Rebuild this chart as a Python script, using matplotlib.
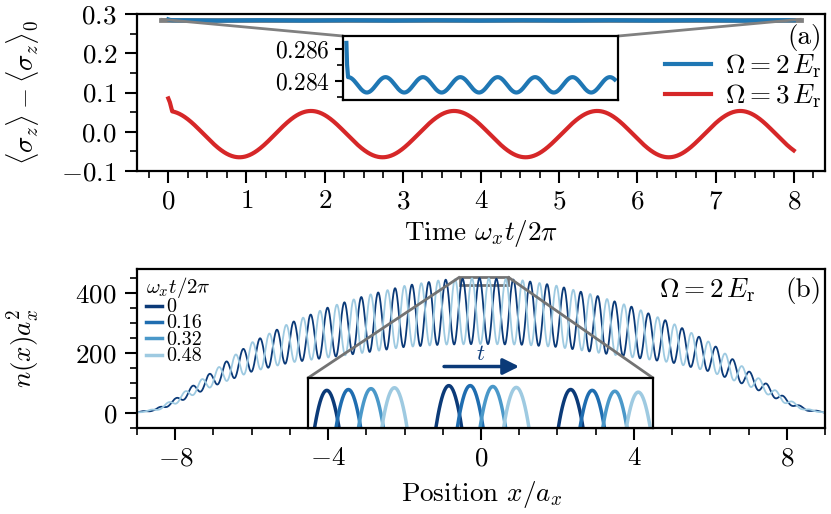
import numpy as np
import matplotlib.pyplot as plt
from matplotlib.lines import Line2D
from matplotlib.ticker import MultipleLocator
from mpl_toolkits.axes_grid1.inset_locator import mark_inset

plt.rcParams.update({
    "font.family": "serif",
    "font.serif": ["cmr10"],
    "mathtext.fontset": "cm",
    "axes.formatter.use_mathtext": True,
    "font.size": 19.5,
    "axes.linewidth": 1.6,
})

# ---- panel (a): values ----
t_end = 8.0
# sharp initial drop, then a steady oscillation
blue_start_t = [0.0, 0.02]
blue_start = [0.28637, 0.2850]
blue_mean, blue_amp, blue_period, blue_trough = 0.28375, 0.00048, 1.115, 0.61

red_start_t = [0.0, 0.02]
red_start = [0.085, 0.075]
red_mean, red_amp, red_period, red_trough = -0.006, 0.059, 1.83, 0.91

# ---- panel (b): density envelope (symmetric in x) ----
x_knots = [0, 1, 2, 3, 4, 5, 6, 7, 7.5, 8, 8.5, 9]
upper_env = [450, 444, 424, 392, 352, 300, 235, 140, 95, 48, 14, 3]
lower_env = [230, 228, 220, 202, 185, 168, 138, 90, 62, 30, 8, 1]
fringe_period = 0.442
fringe_x0 = -0.04
times = ["0", "0.16", "0.32", "0.48"]
fringe_shift = [0.0, 0.078, 0.160, 0.245]
colors = ["#0b3a78", "#1f6db0", "#4a98c9", "#9ecae1"]

blue_c = "#1f77b4"
red_c = "#d62728"


def wave(t, mean, amp, period, t_trough):
    return mean - amp * np.cos(2 * np.pi * (t - t_trough) / period)


t = np.linspace(0.05, t_end, 1200)
t_blue = np.concatenate([blue_start_t, t])
y_blue = np.concatenate([blue_start, wave(t, blue_mean, blue_amp, blue_period, blue_trough)])
t_red = np.concatenate([red_start_t, t])
y_red = np.concatenate([red_start, wave(t, red_mean, red_amp, red_period, red_trough)])

x = np.linspace(-9, 9, 4000)
up = np.interp(np.abs(x), x_knots, upper_env)
lo = np.interp(np.abs(x), x_knots, lower_env)


def density(shift):
    ph = 2 * np.pi * (x - fringe_x0 - shift) / fringe_period
    return lo + (up - lo) * 0.5 * (1 + np.cos(ph))


fig = plt.figure(figsize=(8.31, 5.14), dpi=100)
ax1 = fig.add_axes([0.1649, 0.6673, 0.8279, 0.3054])
ax2 = fig.add_axes([0.1649, 0.1673, 0.8279, 0.3093])

for ax in (ax1, ax2):
    ax.tick_params(which="major", direction="out", length=8.5, width=1.5, labelsize=19.5)
    ax.tick_params(which="minor", direction="out", length=5, width=1.2)
    ax.tick_params(axis="x", which="major", pad=5)
    ax.tick_params(axis="y", which="major", pad=6)

# panel (a)
ax1.plot(t_blue, y_blue, color=blue_c, lw=3, label=r"$\Omega = 2\,E_\mathrm{r}$", zorder=3)
ax1.plot(t_red, y_red, color=red_c, lw=3, label=r"$\Omega = 3\,E_\mathrm{r}$")
ax1.set_xlim(-0.4, 8.4)
ax1.set_ylim(-0.1, 0.3)
ax1.set_xticks(range(0, 9))
ax1.xaxis.set_minor_locator(MultipleLocator(0.25))
ax1.set_yticks([-0.1, 0.0, 0.1, 0.2, 0.3])
ax1.yaxis.set_minor_locator(MultipleLocator(0.05))
ax1.set_xlabel(r"Time $\omega_x t/2\pi$")
ax1.xaxis.set_label_coords(0.5, -0.3)
ax1.set_ylabel(r"$\langle\sigma_z\rangle - \langle\sigma_z\rangle_0$")
ax1.yaxis.set_label_coords(-0.14, 0.5)
ax1.legend(loc="center right", bbox_to_anchor=(1.01, 0.57), frameon=False,
           handlelength=1.7, handletextpad=0.5, labelspacing=0.1, borderaxespad=0)
ax1.text(0.995, 0.85, "(a)", transform=ax1.transAxes, ha="right", va="center")

axins1 = fig.add_axes([0.4128, 0.8054, 0.3309, 0.1245])
axins1.plot(t_blue, y_blue, color=blue_c, lw=3)
axins1.set_xlim(-0.1, 8.1)
axins1.set_ylim(0.2828, 0.2868)
axins1.set_xticks([])
axins1.set_yticks([0.284, 0.286])
axins1.set_yticks([0.283, 0.285], minor=True)
axins1.tick_params(which="major", direction="out", length=6, width=1.5, labelsize=17)
axins1.tick_params(which="minor", direction="out", length=4, width=1.2)
mark_inset(ax1, axins1, loc1=2, loc2=1, fc="none", ec="0.5", lw=2)

# panel (b): only first and last time in the main plot
ax2.plot(x, density(fringe_shift[0]), color=colors[0], lw=1.3)
ax2.plot(x, density(fringe_shift[3]), color=colors[3], lw=1.3)
ax2.set_xlim(-9, 9)
ax2.set_ylim(-50, 480)
ax2.set_xticks([-8, -4, 0, 4, 8])
ax2.xaxis.set_minor_locator(MultipleLocator(1))
ax2.set_yticks([0, 200, 400])
ax2.yaxis.set_minor_locator(MultipleLocator(50))
ax2.set_xlabel(r"Position $x/a_x$")
ax2.xaxis.set_label_coords(0.5, -0.32)
ax2.set_ylabel(r"$n(x)a_x^2$")
ax2.yaxis.set_label_coords(-0.138, 0.5)
ax2.text(0.829, 0.868, r"$\Omega = 2\,E_\mathrm{r}$", transform=ax2.transAxes, ha="center", va="center")
ax2.text(0.995, 0.868, "(b)", transform=ax2.transAxes, ha="right", va="center")

handles = [Line2D([], [], color=c, lw=2.5) for c in colors]
leg = ax2.legend(handles, times, title=r"$\omega_x t/2\pi$", loc="upper left",
                 bbox_to_anchor=(-0.005, 1.04), frameon=False, fontsize=14.5, title_fontsize=15,
                 handlelength=0.8, handleheight=0.5, handletextpad=0.2, labelspacing=-0.08,
                 borderaxespad=0.2)
leg._legend_box.align = "left"

ax2.annotate("", xy=(1.07, 155), xytext=(-1.04, 155),
             arrowprops=dict(arrowstyle="-|>", color=colors[0], lw=2.5, mutation_scale=24))
ax2.text(0, 195, r"$t$", ha="center", va="center", color=colors[0], fontsize=16)

axins2 = fig.add_axes([0.3706, 0.1673, 0.4152, 0.0973])
for s, c in zip(fringe_shift, colors):
    axins2.plot(x, density(s), color=c, lw=2.5)
axins2.set_xlim(-0.55, 0.70)
axins2.set_ylim(426, 454)
axins2.set_xticks([])
axins2.set_yticks([])
mark_inset(ax2, axins2, loc1=2, loc2=1, fc="none", ec="0.45", lw=2)

fig.savefig("out.png", dpi=100)
